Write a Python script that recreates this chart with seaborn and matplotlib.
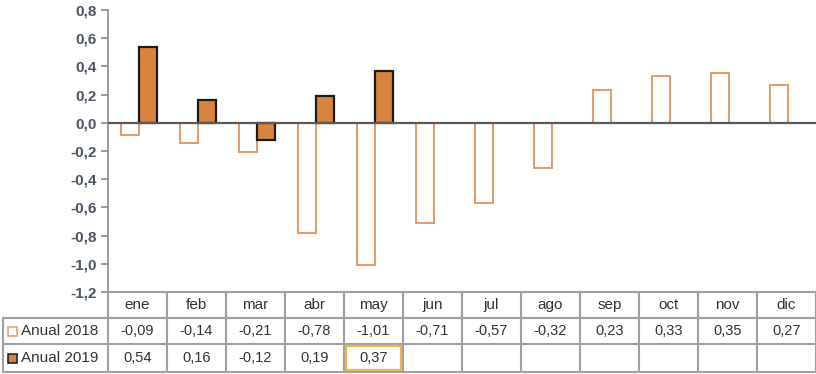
import numpy as np
import pandas as pd
import matplotlib
matplotlib.use("Agg")
import matplotlib.pyplot as plt
from matplotlib.patches import Rectangle
from matplotlib.lines import Line2D
import seaborn as sns

# Monthly values
months = ["ene", "feb", "mar", "abr", "may", "jun", "jul", "ago", "sep", "oct", "nov", "dic"]
anual_2018 = [-0.09, -0.14, -0.21, -0.78, -1.01, -0.71, -0.57, -0.32, 0.23, 0.33, 0.35, 0.27]
anual_2019 = [0.54, 0.16, -0.12, 0.19, 0.37, None, None, None, None, None, None, None]
series_names = ["Anual 2018", "Anual 2019"]
y_ticks = [0.8, 0.6, 0.4, 0.2, 0.0, -0.2, -0.4, -0.6, -0.8, -1.0, -1.2]

sns.set_theme(style="white")
plt.rcParams["font.family"] = ["Liberation Sans", "DejaVu Sans"]

W, H = 816, 374
fig = plt.figure(figsize=(W / 100, H / 100), dpi=100)

def fx(px):
    return px / W

def fy(py):
    return 1 - py / H

plot_left, plot_right, plot_top, plot_bottom = 108, 816, 10, 292
ax = fig.add_axes([fx(plot_left), fy(plot_bottom), fx(plot_right - plot_left),
                   (plot_bottom - plot_top) / H])

df = pd.DataFrame({
    "mes": months * 2,
    "serie": [series_names[0]] * 12 + [series_names[1]] * 12,
    "valor": anual_2018 + anual_2019,
})
df["valor"] = df["valor"].astype(float)

light_edge = "#e39a66"
dark_fill = "#d8843f"
sns.barplot(data=df, x="mes", y="valor", hue="serie", order=months,
            hue_order=series_names, palette=["white", dark_fill],
            width=0.62, ax=ax, legend=False, saturation=1)
for cont, ec, lw in zip(ax.containers, [light_edge, "#1a1a1a"], [1.4, 1.6]):
    for bar in cont:
        bar.set_edgecolor(ec)
        bar.set_linewidth(lw)

ax.set_xlim(-0.525, 11.475)
ax.set_ylim(-1.2, 0.8)
ax.set_yticks(y_ticks)
ax.set_yticklabels([f"{v:.1f}".replace(".", ",") for v in y_ticks],
                   fontsize=11, color="#4d5566", fontweight="bold")
ax.set_xticks([])
ax.set_xlabel("")
ax.set_ylabel("")
for s in ["top", "right", "bottom"]:
    ax.spines[s].set_visible(False)
ax.spines["left"].set_color("#8c8c8c")
ax.spines["left"].set_linewidth(1.2)
ax.tick_params(axis="y", direction="out", length=5, width=1.2, color="#8c8c8c",
               pad=3, left=True)
ax.axhline(0, color="#5a5a5a", lw=1.6, zorder=3)

# Data table below the axis
grid_c = "#a0a0a0"
col_w = (plot_right - plot_left) / 12
rows_y = [292, 318, 344, 372]
lab_left = 3

def hline(x0, x1, y, color=grid_c, lw=1.5):
    fig.add_artist(Line2D([fx(x0), fx(x1)], [fy(y), fy(y)], color=color, lw=lw))

def vline(x, y0, y1, color=grid_c, lw=1.5):
    fig.add_artist(Line2D([fx(x), fx(x)], [fy(y0), fy(y1)], color=color, lw=lw))

hline(plot_left, plot_right, rows_y[0])
for y in rows_y[1:]:
    hline(lab_left, plot_right, y)
vline(lab_left, rows_y[1], rows_y[3])
for i in range(13):
    vline(plot_left + i * col_w, rows_y[0], rows_y[3])

txt_c = "#333333"
for i, m in enumerate(months):
    cx = plot_left + (i + 0.5) * col_w
    fig.text(fx(cx), fy((rows_y[0] + rows_y[1]) / 2), m, ha="center", va="center",
             fontsize=11, color=txt_c)
    for r, vals in enumerate([anual_2018, anual_2019]):
        v = vals[i]
        if v is None:
            continue
        fig.text(fx(cx), fy((rows_y[r + 1] + rows_y[r + 2]) / 2),
                 f"{v:.2f}".replace(".", ","), ha="center", va="center",
                 fontsize=10.5, color=txt_c)

# Highlighted cell (may 2019)
i_may = months.index("may")
fig.add_artist(Rectangle((fx(plot_left + i_may * col_w + 2), fy(rows_y[3] - 2)),
                         fx(col_w - 4), (rows_y[3] - rows_y[2] - 4) / H,
                         fill=False, edgecolor="#e8b84a", lw=1.6, zorder=5))

# Row labels with legend keys
for r, (name, fc, ec) in enumerate(zip(series_names, ["white", dark_fill],
                                         [light_edge, "#1a1a1a"])):
    yc = (rows_y[r + 1] + rows_y[r + 2]) / 2
    fig.add_artist(Rectangle((fx(8), fy(yc + 4.5)), fx(9), 9 / H,
                             facecolor=fc, edgecolor=ec, lw=1.1, zorder=5))
    fig.text(fx(21), fy(yc), name, ha="left", va="center", fontsize=11, color=txt_c)

fig.savefig("out.png", dpi=100)
